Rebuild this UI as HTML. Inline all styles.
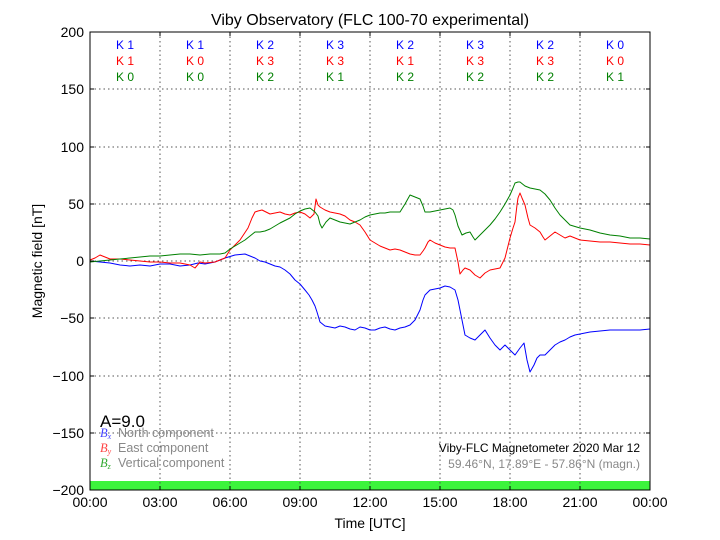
<!DOCTYPE html>
<html><head><meta charset="utf-8"><style>body{margin:0;background:#fff}svg{display:block;font-family:"Liberation Sans",sans-serif}</style></head><body>
<svg width="720" height="540" viewBox="0 0 720 540">
<rect width="720" height="540" fill="#fff"/>
<rect x="90" y="481" width="560" height="9" fill="#3cf43c"/>
<g stroke="#555" stroke-dasharray="1.5,3" stroke-width="1">
<line x1="160" y1="32" x2="160" y2="490"/><line x1="230" y1="32" x2="230" y2="490"/><line x1="300" y1="32" x2="300" y2="490"/><line x1="370" y1="32" x2="370" y2="490"/><line x1="440" y1="32" x2="440" y2="490"/><line x1="510" y1="32" x2="510" y2="490"/><line x1="580" y1="32" x2="580" y2="490"/>
<line x1="90" y1="89" x2="650" y2="89"/><line x1="90" y1="147" x2="650" y2="147"/><line x1="90" y1="204" x2="650" y2="204"/><line x1="90" y1="261" x2="650" y2="261"/><line x1="90" y1="318" x2="650" y2="318"/><line x1="90" y1="376" x2="650" y2="376"/><line x1="90" y1="433" x2="650" y2="433"/>
</g>
<g fill="none" stroke-width="1" stroke-linejoin="round">
<polyline stroke="#00f" points="90,261 100,262 110,263 120,265 130,266 140,265 150,266 160,264 170,264 180,266 190,265 198,263 205,264 215,262 225,258 235,255 245,254 250,256 255,258 260,261 265,262 270,264 275,266 280,267 285,270 290,274 295,280 300,284 305,290 309,295 312,300 315,306 317,312 320,322 325,326 330,327 335,328 340,326 345,327 350,329 355,330 360,327 365,328 370,330 375,330 380,328 385,327 390,329 395,330 400,328 405,327 410,325 415,320 420,310 423,300 425,295 430,290 435,289 440,288 445,286 450,287 455,290 458,300 460,310 462,320 465,335 470,338 475,340 480,335 485,330 490,338 495,345 500,350 505,345 510,350 515,355 520,348 524,343 527,360 530,372 534,365 537,358 540,355 545,355 550,350 555,345 560,342 565,340 570,337 575,335 580,334 590,332 600,331 610,330 620,330 630,330 640,330 650,329"/>
<polyline stroke="#f00" points="90,260 95,258 100,255 105,257 110,259 120,259 130,260 140,261 150,262 160,262 170,263 180,263 190,265 195,268 200,262 205,263 215,262 225,258 230,250 232,248 236,244 240,240 244,234 248,228 252,218 255,212 258,211 262,210 266,212 270,214 275,213 280,212 285,214 290,215 295,213 300,212 305,214 310,218 314,214 316,199 318,205 320,207 325,210 330,212 335,213 340,214 345,216 350,220 355,222 360,225 365,232 370,240 375,243 380,246 385,248 390,250 395,249 400,250 405,252 410,254 415,255 420,255 423,251 425,248 428,242 430,240 435,243 440,245 445,247 450,248 455,248 458,262 460,274 463,270 465,268 470,270 475,275 480,278 485,273 490,270 495,269 500,268 505,258 508,246 510,238 513,228 515,222 517,205 518,198 520,193 522,198 525,205 528,218 530,225 535,228 540,232 543,237 545,240 550,236 555,232 560,235 565,238 570,236 580,240 590,241 600,242 610,242 620,243 630,244 640,244 650,245"/>
<polyline stroke="#008000" points="90,262 100,261 110,260 120,259 130,258 140,257 150,256 160,256 170,255 180,254 190,254 200,255 210,254 220,254 225,253 230,249 235,246 240,243 245,240 250,236 255,232 260,232 265,231 270,229 275,226 280,223 290,218 295,214 300,211 305,209 310,208 315,212 318,216 320,224 322,228 326,222 330,218 335,220 340,222 345,223 350,224 355,222 360,220 365,217 370,215 375,214 380,213 385,213 390,212 395,212 400,212 405,204 410,195 415,197 420,199 423,206 425,212 430,212 435,211 440,210 445,209 450,208 453,210 455,215 458,226 462,235 466,233 470,232 473,237 475,240 478,237 480,235 485,230 490,225 495,219 500,212 505,204 510,195 513,188 515,183 518,182 520,182 525,186 530,188 535,189 540,190 545,194 550,200 555,208 560,215 565,220 570,225 580,228 590,230 600,233 610,235 620,236 630,238 640,238 650,239"/>
</g>
<rect x="90" y="32" width="560" height="458" fill="none" stroke="#000"/>
<g stroke="#000"><line x1="160" y1="486" x2="160" y2="490"/><line x1="230" y1="486" x2="230" y2="490"/><line x1="300" y1="486" x2="300" y2="490"/><line x1="370" y1="486" x2="370" y2="490"/><line x1="440" y1="486" x2="440" y2="490"/><line x1="510" y1="486" x2="510" y2="490"/><line x1="580" y1="486" x2="580" y2="490"/>
<line x1="160" y1="32" x2="160" y2="36"/><line x1="230" y1="32" x2="230" y2="36"/><line x1="300" y1="32" x2="300" y2="36"/><line x1="370" y1="32" x2="370" y2="36"/><line x1="440" y1="32" x2="440" y2="36"/><line x1="510" y1="32" x2="510" y2="36"/><line x1="580" y1="32" x2="580" y2="36"/>
<line x1="90" y1="89" x2="94" y2="89"/><line x1="90" y1="147" x2="94" y2="147"/><line x1="90" y1="204" x2="94" y2="204"/><line x1="90" y1="261" x2="94" y2="261"/><line x1="90" y1="318" x2="94" y2="318"/><line x1="90" y1="376" x2="94" y2="376"/><line x1="90" y1="433" x2="94" y2="433"/>
<line x1="646" y1="89" x2="650" y2="89"/><line x1="646" y1="147" x2="650" y2="147"/><line x1="646" y1="204" x2="650" y2="204"/><line x1="646" y1="261" x2="650" y2="261"/><line x1="646" y1="318" x2="650" y2="318"/><line x1="646" y1="376" x2="650" y2="376"/><line x1="646" y1="433" x2="650" y2="433"/></g>
<text x="370" y="25" font-size="16" text-anchor="middle">Viby Observatory (FLC 100-70 experimental)</text>
<g font-size="14" text-anchor="end"><text x="84" y="37">200</text><text x="84" y="94">150</text><text x="84" y="152">100</text><text x="84" y="209">50</text><text x="84" y="266">0</text><text x="84" y="323">−50</text><text x="84" y="381">−100</text><text x="84" y="438">−150</text><text x="84" y="495">−200</text></g>
<g font-size="14" text-anchor="middle"><text x="90" y="507">00:00</text><text x="160" y="507">03:00</text><text x="230" y="507">06:00</text><text x="300" y="507">09:00</text><text x="370" y="507">12:00</text><text x="440" y="507">15:00</text><text x="510" y="507">18:00</text><text x="580" y="507">21:00</text><text x="650" y="507">00:00</text></g>
<text x="370" y="528" font-size="14" text-anchor="middle">Time [UTC]</text>
<text transform="translate(42,261) rotate(-90)" font-size="14" text-anchor="middle">Magnetic field [nT]</text>
<g font-size="12" text-anchor="middle">
<g fill="#00f"><text x="125" y="49">K 1</text><text x="195" y="49">K 1</text><text x="265" y="49">K 2</text><text x="335" y="49">K 3</text><text x="405" y="49">K 2</text><text x="475" y="49">K 3</text><text x="545" y="49">K 2</text><text x="615" y="49">K 0</text></g>
<g fill="#f00"><text x="125" y="65">K 1</text><text x="195" y="65">K 0</text><text x="265" y="65">K 3</text><text x="335" y="65">K 3</text><text x="405" y="65">K 1</text><text x="475" y="65">K 3</text><text x="545" y="65">K 3</text><text x="615" y="65">K 0</text></g>
<g fill="#008000"><text x="125" y="81">K 0</text><text x="195" y="81">K 0</text><text x="265" y="81">K 2</text><text x="335" y="81">K 1</text><text x="405" y="81">K 2</text><text x="475" y="81">K 2</text><text x="545" y="81">K 2</text><text x="615" y="81">K 1</text></g>
</g>
<text x="100" y="427" font-size="17">A=9.0</text>
<g font-size="12.5" fill="#888">
<text x="100" y="437" fill="#44f" font-family="Liberation Serif" font-style="italic">B<tspan font-size="8" dy="2">x</tspan></text><text x="118" y="437">North component</text>
<text x="100" y="452" fill="#f44" font-family="Liberation Serif" font-style="italic">B<tspan font-size="8" dy="2">y</tspan></text><text x="118" y="452">East component</text>
<text x="100" y="467" fill="#3a3" font-family="Liberation Serif" font-style="italic">B<tspan font-size="8" dy="2">z</tspan></text><text x="118" y="467">Vertical component</text>
</g>
<text x="640" y="452" font-size="12" text-anchor="end">Viby-FLC Magnetometer 2020 Mar 12</text>
<text x="640" y="468" font-size="12" text-anchor="end" fill="#888">59.46°N, 17.89°E - 57.86°N (magn.)</text>
</svg>
</body></html>
